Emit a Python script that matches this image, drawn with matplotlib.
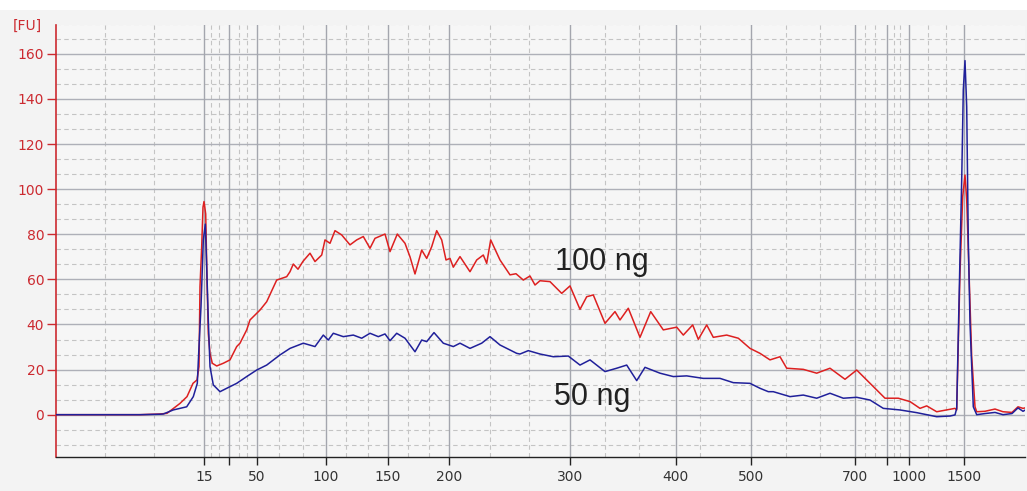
import matplotlib
matplotlib.use("Agg")
import matplotlib.pyplot as plt
from matplotlib.patches import Rectangle

# migration time (arbitrary units) and fluorescence [FU]
t_100 = [0, 4.4, 8.4, 10.4, 11.1, 12.4, 13.1, 13.7, 14.1, 14.3, 14.4, 14.57, 14.7, 14.8, 14.97,
         15.1, 15.23, 15.4, 15.63, 16.07, 16.73, 17.4, 18.07, 18.4, 19.07, 19.4, 19.9, 20.4, 21.07,
         22.07, 23.07, 23.4, 23.73, 24.2, 24.7, 25.4, 25.9, 26.57, 26.9, 27.4, 27.9, 28.57, 29.4,
         30.07, 30.73, 31.4, 31.9, 32.9, 33.4, 34.13, 34.9, 35.4, 35.9, 36.57, 37.07, 37.57, 38.07,
         38.57, 39.0, 39.4, 39.73, 40.4, 41.4, 42.07, 42.73, 43.07, 43.47, 44.4, 45.4, 46.0, 46.73,
         47.4, 47.9, 48.4, 49.4, 50.57, 51.4, 52.4, 53.07, 53.73, 54.9, 55.9, 56.4, 57.23, 58.4,
         59.47, 60.73, 62.07, 62.73, 63.67, 64.23, 65.07, 65.73, 67.07, 68.23, 69.4, 70.4, 71.4,
         72.4, 73.07, 74.73, 76.07, 77.4, 78.9, 80.07, 81.07, 82.07, 82.9, 84.23, 85.4, 86.4, 87.07,
         88.07, 89.07, 89.9, 90.07, 90.4, 90.67, 90.9, 91.07, 91.3, 91.57, 91.9, 92.07, 92.9, 93.9,
         94.7, 95.6, 96.2, 96.7, 96.9]
fu_100 = [0, 0, 0, 0.3, 0.6, 5, 8, 13.9, 15.4, 21.3, 56.8, 74.5, 92, 94.5, 89,
          60, 36, 27.2, 22.8, 21.6, 22.8, 24.3, 30.2, 31.7, 37.6, 42, 44.2, 46.4, 50.1,
          59.7, 61.2, 63.4, 66.8, 64.5, 68, 71.6, 67.9, 70.8, 77.5, 76, 81.6, 79.7, 75.3,
          77.5, 79, 73.8, 78.2, 80.1, 72.3, 80.1, 76, 70, 62.4, 73, 69.3, 74.5, 81.6,
          77.5, 68.6, 69.3, 65.4, 70.1, 63.4, 68.6, 70.8, 67.1, 77.5, 68.6, 62, 62.5, 59.7,
          61.5, 57.5, 59.4, 59, 53.8, 57.1, 46.7, 52.3, 53.1, 40.5, 45.7, 42, 47.2, 34.3,
          45.7, 37.6, 38.8, 35.3, 39.8, 33.4, 39.8, 34.3, 35.3, 33.9, 29.4, 27.2, 24.3,
          25.7, 20.6, 20.1, 18.4, 20.6, 15.7, 19.8, 15.4, 11, 7.3, 7.3, 5.8, 2.8, 3.9,
          1.3, 2.1, 2.8, 2.1, 62.8, 96.7, 106.3, 95.2, 62.8, 25.7, 3.5, 1.3, 1.5, 2.5,
          1.3, 1, 3.5, 2.8, 3]

t_50 = [0, 4.4, 8.4, 10.4, 10.73, 11.73, 13.07, 13.73, 14.13, 14.3, 14.5, 14.57, 14.73, 14.93,
        15.07, 15.23, 15.4, 15.73, 16.4, 17.07, 18.07, 19.07, 20.07, 21.07, 22.4, 23.4, 24.73,
        25.9, 26.73, 27.23, 27.73, 28.73, 29.73, 30.57, 31.4, 32.23, 32.9, 33.4, 34.07, 34.9,
        35.9, 36.57, 37.07, 37.8, 38.73, 39.73, 40.4, 41.4, 42.57, 43.4, 44.4, 46.07, 46.4,
        47.23, 48.4, 49.73, 51.23, 52.4, 53.4, 54.9, 56.07, 57.07, 58.07, 58.9, 60.4, 61.73,
        63.07, 64.73, 66.4, 67.73, 69.4, 70.4, 71.23, 71.73, 73.4, 74.73, 76.07, 77.4, 78.73,
        80.07, 81.4, 82.73, 84.4, 86.07, 88.07, 89.4, 89.9, 90.07, 90.4, 90.57, 90.73, 90.9,
        91.07, 91.23, 91.4, 91.73, 92.07, 92.9, 93.9, 94.7, 95.6, 96.2, 96.7, 96.9]
fu_50 = [0, 0, 0, 0.2, 0.3, 2.1, 3.5, 8, 13.9, 30.2, 47.9, 56.8, 77.5, 84.5,
         65.6, 42, 21.3, 13.2, 10.2, 11.7, 13.9, 16.9, 19.8, 22, 26.5, 29.4, 31.7,
         30.2, 35.3, 33.1, 36.1, 34.6, 35.3, 33.9, 36.1, 34.6, 35.8, 32.8, 36.1, 33.9,
         27.9, 33.1, 32.4, 36.4, 31.7, 30.2, 31.7, 29.4, 31.7, 34.6, 30.9, 27.2, 26.9,
         28.4, 26.9, 25.7, 26, 22, 24.3, 19.1, 20.6, 22, 15.1, 21, 18.4, 16.9,
         17.2, 16.1, 16.1, 14.2, 13.9, 11.7, 10.2, 10.2, 8, 8.7, 7.3, 9.5, 7.3,
         7.7, 6.5, 2.8, 2.1, 0.9, -0.9, -0.6, -0.1, 2.8, 70, 104, 144, 157,
         136.6, 77.5, 40.6, 3.5, 0, 0.5, 1, 0, 0.5, 3, 1.5, 2]

# ladder sizes [bp] and where they sit on the time axis
ladder_pos = [14.8, 17.33, 20.07, 27.0, 33.17, 39.33, 51.4, 61.97, 69.53, 79.9, 83.13, 85.33, 90.83]
ladder_bp = ["15", "", "50", "100", "150", "200", "300", "400", "500", "700", "", "1000", "1500"]
minor_pos = [4.9, 9.8, 15.5, 16.3, 18.3, 19.1, 22.3, 24.7, 29.0, 31.2, 35.2, 37.3, 43.4, 47.3,
             54.9, 58.3, 64.4, 73.0, 76.4, 80.9, 81.9, 83.8, 84.4, 87.2, 89.0]

red = "#dd2020"
blue = "#20209a"
axis_red = "#cc2a30"

fig = plt.figure(figsize=(10.27, 4.91), dpi=100, facecolor="#f3f3f3")
fig.patches.append(Rectangle((0, 1 - 10 / 491), 1, 10 / 491, transform=fig.transFigure,
                             facecolor="white", edgecolor="none"))
ax = fig.add_axes([56 / 1027, 1 - 457.3 / 491, 969 / 1027, (457.3 - 25) / 491])
ax.set_facecolor("#f6f6f6")

# grid: dashed minor lines first, solid major lines on top
for y in [v + k * 20 / 3 for v in range(-20, 180, 20) for k in (1, 2)]:
    ax.axhline(y, color="#c4c4c4", lw=0.8, ls=(0, (4, 3)), zorder=0)
for y in range(0, 180, 20):
    ax.axhline(y, color="#aeb0b8", lw=1.0, zorder=0.5)
for x in minor_pos:
    ax.axvline(x, color="#c4c4c4", lw=0.8, ls=(0, (4, 3)), zorder=0)
for x in ladder_pos:
    ax.axvline(x, color="#a4a6ae", lw=1.0, zorder=0.5)

ax.plot(t_50, fu_50, color=blue, lw=1.1, zorder=3)
ax.plot(t_100, fu_100, color=red, lw=1.1, zorder=2)

ax.set_xlim(0, 96.9)
ax.set_ylim(-18.9, 172.8)
ax.set_yticks(range(0, 161, 20))
ax.set_xticks(ladder_pos)
ax.set_xticklabels(ladder_bp)

ax.spines["top"].set_visible(False)
ax.spines["right"].set_visible(False)
ax.spines["left"].set_color(axis_red)
ax.spines["left"].set_linewidth(1.2)
ax.spines["bottom"].set_color("#222222")
ax.spines["bottom"].set_linewidth(1.0)
ax.tick_params(axis="y", colors=axis_red, labelsize=10, length=6.5, width=1, pad=2)
ax.tick_params(axis="x", colors="#222222", labelcolor="#333333", labelsize=10,
               length=5.5, width=1, pad=4)

fig.text(13 / 1027, 1 - 26 / 491, "[FU]", color=axis_red, fontsize=10, ha="left", va="center")

ax.text(49.9, 67.6, "100 ng", fontsize=22, family="Liberation Sans", color="#222222",
        ha="left", va="center")
ax.text(49.8, 7.8, "50 ng", fontsize=22, family="Liberation Sans", color="#222222",
        ha="left", va="center")

fig.savefig("out.png", dpi=100, facecolor=fig.get_facecolor())
